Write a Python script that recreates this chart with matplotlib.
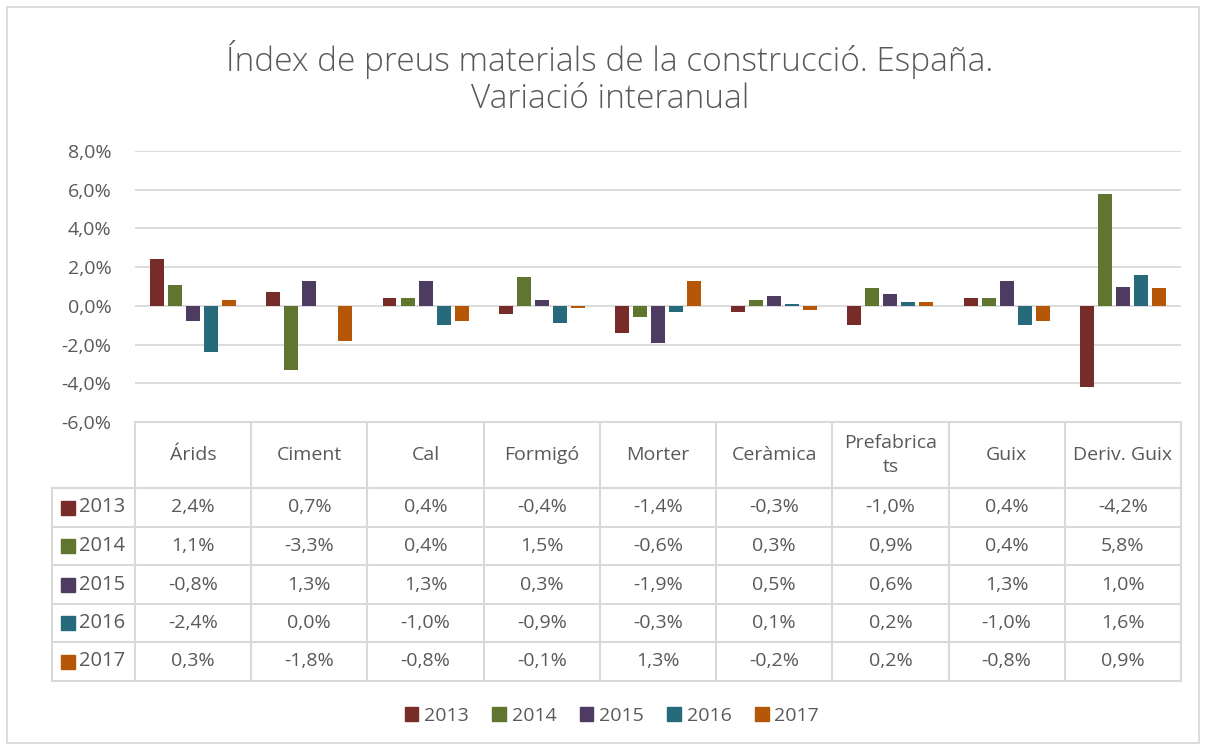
import matplotlib.pyplot as plt
from matplotlib.patches import Patch, Rectangle

plt.rcParams['font.family'] = ['Open Sans', 'DejaVu Sans']

categories = ['Árids', 'Ciment', 'Cal', 'Formigó', 'Morter', 'Ceràmica',
              'Prefabrica\nts', 'Guix', 'Deriv. Guix']
years = ['2013', '2014', '2015', '2016', '2017']
v2013 = [2.4, 0.7, 0.4, -0.4, -1.4, -0.3, -1.0, 0.4, -4.2]
v2014 = [1.1, -3.3, 0.4, 1.5, -0.6, 0.3, 0.9, 0.4, 5.8]
v2015 = [-0.8, 1.3, 1.3, 0.3, -1.9, 0.5, 0.6, 1.3, 1.0]
v2016 = [-2.4, 0.0, -1.0, -0.9, -0.3, 0.1, 0.2, -1.0, 1.6]
v2017 = [0.3, -1.8, -0.8, -0.1, 1.3, -0.2, 0.2, -0.8, 0.9]
series = [v2013, v2014, v2015, v2016, v2017]
colors = ['#772C2A', '#5F7530', '#4D3B62', '#276A7C', '#B65708']
yticks = [-6, -4, -2, 0, 2, 4, 6, 8]

W, H = 1206, 749
txt = '#595959'
grid = '#D9D9D9'
fs = 14

fig = plt.figure(figsize=(W / 100, H / 100), dpi=100)

# plot area
x0, x1, ytop, ybot = 135, 1181, 151, 422
ax = fig.add_axes([x0 / W, 1 - ybot / H, (x1 - x0) / W, (ybot - ytop) / H])
ax.set_xlim(-0.5, len(categories) - 0.5)
ax.set_ylim(-6, 8)
for y in yticks[1:]:
    ax.axhline(y, color=grid, lw=1.3, zorder=0)
for j, vals in enumerate(series):
    xs = [i + (j - 2) * 0.155 for i in range(len(categories))]
    ax.bar(xs, vals, width=0.12, color=colors[j], zorder=2)
ax.set_yticks(yticks)
ax.set_yticklabels([f'{t:.1f}%'.replace('.', ',') for t in yticks])
ax.tick_params(axis='y', length=0, pad=17, labelsize=fs, labelcolor=txt)
ax.set_xticks([])
for s in ax.spines.values():
    s.set_visible(False)

# data table
tax = fig.add_axes([0, 0, 1, 1])
tax.set_xlim(0, W)
tax.set_ylim(H, 0)
tax.axis('off')
tax.add_patch(Rectangle((7, 7), 1192, 736, fill=False, ec=grid, lw=1.3))

colw = (x1 - x0) / len(categories)
xl = 52
rows_y = [422, 488, 527, 565, 604, 642, 681]
lw = 1.5
tax.plot([x0, x1], [rows_y[0], rows_y[0]], color=grid, lw=lw)
for y in rows_y[1:]:
    tax.plot([xl, x1], [y, y], color=grid, lw=lw)
for k in range(len(categories) + 1):
    tax.plot([x0 + k * colw] * 2, [rows_y[0], rows_y[-1]], color=grid, lw=lw)
tax.plot([xl, xl], [rows_y[1], rows_y[-1]], color=grid, lw=lw)

for i, c in enumerate(categories):
    tax.text(x0 + (i + 0.5) * colw, (rows_y[0] + rows_y[1]) / 2, c,
             ha='center', va='center', color=txt, fontsize=fs, linespacing=1.4)
for j, vals in enumerate(series):
    yc = (rows_y[j + 1] + rows_y[j + 2]) / 2
    tax.add_patch(Rectangle((61, yc - 7), 14, 14, color=colors[j]))
    tax.text(79, yc, years[j], ha='left', va='center', color=txt, fontsize=fs + 0.5)
    for i, v in enumerate(vals):
        tax.text(x0 + (i + 0.5) * colw, yc, f'{v:.1f}%'.replace('.', ','),
                 ha='center', va='center', color=txt, fontsize=fs)

# legend
handles = [Patch(color=c, label=y) for c, y in zip(colors, years)]
fig.legend(handles=handles, loc='center', bbox_to_anchor=(612 / W, 1 - 716 / H),
           ncol=5, frameon=False, fontsize=fs, labelcolor=txt,
           handlelength=0.7, handleheight=0.7, handletextpad=0.3,
           columnspacing=1.2)

fig.text(610 / W, 1 - 78 / H,
         'Índex de preus materials de la construcció. España.\nVariació interanual',
         ha='center', va='center', fontsize=24, color=txt, fontweight='light',
         linespacing=1.1)

fig.savefig('out.png', dpi=100)
